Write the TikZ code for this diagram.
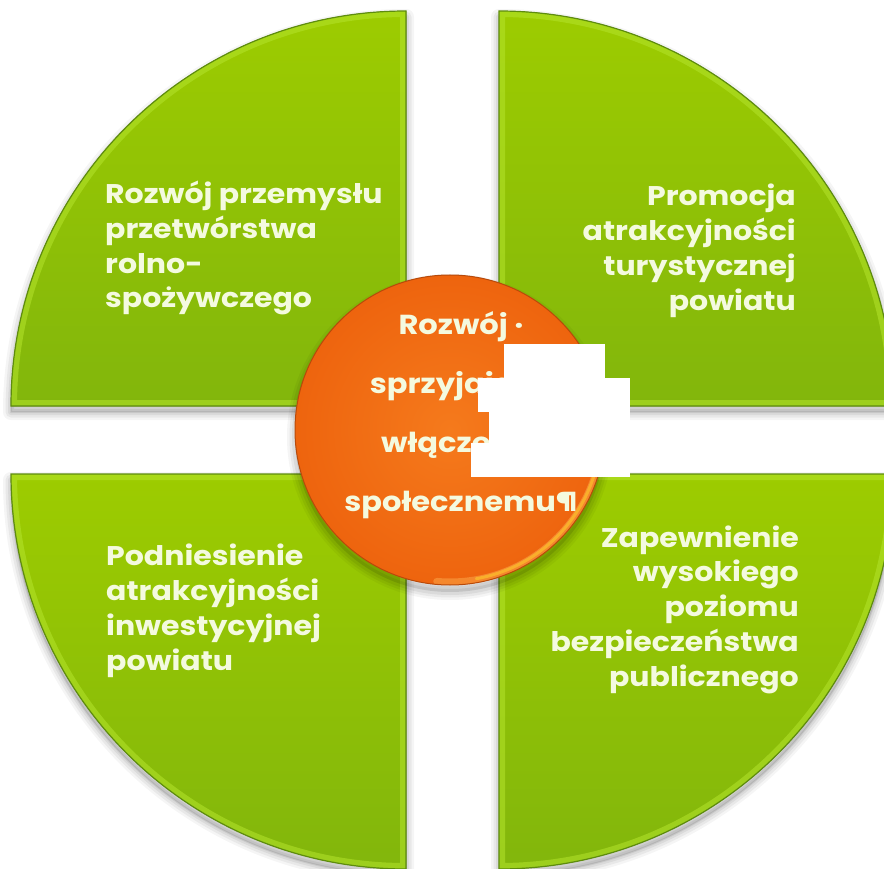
\documentclass[tikz,border=0pt]{standalone}
\usepackage{fontspec}
\setmainfont{Poppins}[FakeStretch=1.11]
\definecolor{gTop}{HTML}{9DCC00}
\definecolor{gBot}{HTML}{82B60C}
\definecolor{gEdge}{HTML}{5E8C0E}
\definecolor{gHi}{HTML}{B4E42C}
\definecolor{oIn}{HTML}{F57A1C}
\definecolor{oOut}{HTML}{EE640E}
\definecolor{oEdge}{HTML}{B84A0A}
\definecolor{oHi}{HTML}{FCA548}
\definecolor{txt}{HTML}{F4FADF}
\newcommand\mysoftshadow[1]{%
  \foreach \w/\o in {16/0.04,11/0.05,6/0.06,2/0.07}{%
    \draw[black, opacity=\o, line width=\w pt, line join=round, shift={(0,6)}] #1;}%
  \fill[black, opacity=0.10, shift={(0,6)}] #1;}
\newcommand\mypiece[1]{%
  \fill[top color=gTop, bottom color=gBot] #1;
  \begin{scope}
    \clip #1;
    \draw[gHi, opacity=0.55, line width=12pt] #1;
  \end{scope}
  \draw[gEdge, line width=1.2pt, line join=miter] #1;}
\begin{document}
\begin{tikzpicture}[x=1pt,y=-1pt,
  qtext/.style={text=txt, font=\fontsize{27}{34.7}\selectfont\bfseries, inner sep=0pt},
  ctext/.style={text=txt, font=\fontsize{27.5}{59}\selectfont\bfseries, inner sep=0pt, align=center},
  mask/.style={fill=white, draw=none}]
\useasboundingbox (0,0) rectangle (884,869);
\clip (0,0) rectangle (884,869);
\fill[white] (0,0) rectangle (884,869);
\def\pTL{(406,406) -- (11,406) arc[start angle=180,end angle=90,radius=395pt] -- cycle}
\def\pTR{(499,406) -- (499,11) arc[start angle=90,end angle=0,radius=395pt] -- cycle}
\def\pBL{(406,474) -- (406,869) arc[start angle=270,end angle=180,radius=395pt] -- cycle}
\def\pBR{(499,474) -- (894,474) arc[start angle=0,end angle=-90,radius=395pt] -- cycle}
\mysoftshadow{\pTL}
\mysoftshadow{\pTR}
\mysoftshadow{\pBL}
\mysoftshadow{\pBR}
\mypiece{\pTL}
\mypiece{\pTR}
\mypiece{\pBL}
\mypiece{\pBR}
% text in quarters (anchored at the baseline of the last line)
\node[qtext, anchor=base west, align=left] (t1) at (105,308) {Rozwój przemysłu\\przetwórstwa\\rolno-\\spożywczego};
\node[qtext, anchor=base east, align=right] (t2) at (796,310) {Promocja\\atrakcyjności\\turystycznej\\powiatu};
\node[qtext, anchor=base west, align=left] (t3) at (106,670) {Podniesienie\\atrakcyjności\\inwestycyjnej\\powiatu};
\node[qtext, anchor=base east, align=right] (t4) at (799,686) {Zapewnienie\\wysokiego\\poziomu\\bezpieczeństwa\\publicznego};
% central circle
\foreach \w/\o in {16/0.04,11/0.05,6/0.06}{%
  \draw[black, opacity=\o, line width=\w pt] (450,437) circle[radius=155pt];}
\fill[black, opacity=0.10] (450,437) circle[radius=155pt];
\node[circle, minimum size=310pt, inner sep=0pt, shading=radial, inner color=oIn, outer color=oOut] (core) at (450,430) {};
\begin{scope}
  \clip (core.center) circle[radius=155pt];
  \draw[oHi, line width=7pt, opacity=0.55, line cap=round] (core.center) ++(-95:152pt) arc[start angle=-95, end angle=20, radius=152pt];
  \draw[oHi!60!yellow, line width=3pt, opacity=0.6, line cap=round] (core.center) ++(-80:151pt) arc[start angle=-80, end angle=5, radius=151pt];
\end{scope}
\draw[oEdge, line width=1pt] (core.center) circle[radius=155pt];
\node[ctext, anchor=base] (c1) at (461,511) {Rozwój ·\\sprzyjający\\włączeniu\\społecznemu¶};
% white cover-ups
\fill[mask] (504,344) rectangle (605,378);
\fill[mask] (478,378) rectangle (630,412);
\fill[mask] (489,412) rectangle (630,443);
\fill[mask] (471,443) rectangle (630,477);
\end{tikzpicture}
\end{document}
